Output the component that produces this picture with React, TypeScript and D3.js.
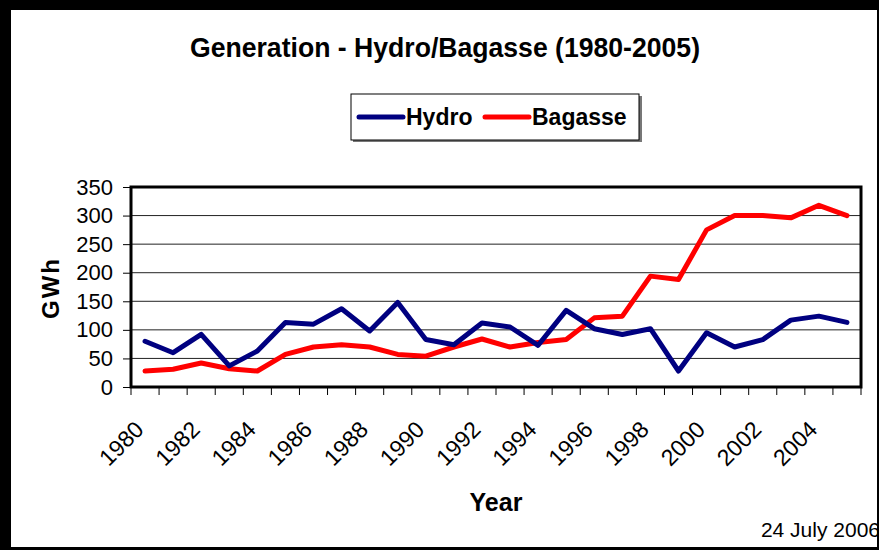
import React, { useRef, useEffect } from "react";
import * as d3 from "d3";

const years = [
    "1980", "1981", "1982", "1983", "1984", "1985", "1986", "1987", "1988",
    "1989", "1990", "1991", "1992", "1993", "1994", "1995", "1996", "1997",
    "1998", "1999", "2000", "2001", "2002", "2003", "2004", "2005",
];
const hydro = [
    80, 60, 92, 37, 63, 113, 110, 137, 98, 148, 83, 74, 112, 105, 73, 134,
    102, 92, 102, 28, 95, 70, 83, 117, 124, 113,
];
const bagasse = [
    28, 31, 42, 32, 28, 57, 70, 74, 70, 57, 54, 70, 84, 70, 78, 83, 121, 124,
    194, 188, 275, 300, 300, 296, 318, 300,
];
const yTicks = [0, 50, 100, 150, 200, 250, 300, 350];
const xTickLabels = [
    "1980", "1982", "1984", "1986", "1988", "1990", "1992", "1994", "1996",
    "1998", "2000", "2002", "2004",
];

const W = 879;
const H = 550;
const FONT = "'Liberation Sans', Arial, sans-serif";

const App = () => {
    const ref = useRef<SVGSVGElement>(null);

    useEffect(() => {
        if (!ref.current) return;
        const svg = d3.select(ref.current);
        svg.selectAll("*").remove();

        // frame
        svg.append("rect").attr("width", W).attr("height", H).attr("fill", "#000");
        svg.append("rect")
            .attr("x", 11)
            .attr("y", 10)
            .attr("width", 866)
            .attr("height", 537)
            .attr("fill", "#fff");

        const plot = { left: 131, right: 861, top: 187, bottom: 387 };

        const x = d3
            .scaleBand()
            .domain(years)
            .range([plot.left, plot.right])
            .padding(0);
        const cx = (d: string) => (x(d) as number) + x.bandwidth() / 2;

        const y = d3.scaleLinear().domain([0, 350]).range([plot.bottom, plot.top]);

        // gridlines
        svg.append("g")
            .selectAll("line")
            .data(yTicks.filter((d) => d > 0 && d < 350))
            .join("line")
            .attr("x1", plot.left)
            .attr("x2", plot.right)
            .attr("y1", (d) => y(d))
            .attr("y2", (d) => y(d))
            .attr("stroke", "#222")
            .attr("stroke-width", 1);

        // y axis
        const yAxis = svg
            .append("g")
            .attr("transform", `translate(${plot.left},0)`)
            .call(d3.axisLeft(y).tickValues(yTicks).tickSize(8).tickPadding(10));
        yAxis.select(".domain").remove();
        yAxis.selectAll(".tick line").attr("stroke", "#000");
        yAxis.selectAll(".tick text")
            .attr("fill", "#000")
            .style("font-family", FONT)
            .style("font-size", "22px");

        // x axis ticks at category boundaries
        const boundaries = years.map((d) => x(d) as number).concat([plot.right]);
        svg.append("g")
            .selectAll("line")
            .data(boundaries)
            .join("line")
            .attr("x1", (d) => d)
            .attr("x2", (d) => d)
            .attr("y1", plot.bottom)
            .attr("y2", plot.bottom + 8)
            .attr("stroke", "#000");

        svg.append("g")
            .selectAll("text")
            .data(xTickLabels)
            .join("text")
            .attr("transform", (d) => `translate(${cx(d)},${plot.bottom + 44}) rotate(-45)`)
            .attr("text-anchor", "end")
            .style("font-family", FONT)
            .style("font-size", "23px")
            .text((d) => d);

        // plot border
        svg.append("rect")
            .attr("x", plot.left)
            .attr("y", plot.top)
            .attr("width", plot.right - plot.left)
            .attr("height", plot.bottom - plot.top)
            .attr("fill", "none")
            .attr("stroke", "#000")
            .attr("stroke-width", 3);

        const line = d3
            .line<number>()
            .x((_, i) => cx(years[i]))
            .y((d) => y(d));

        svg.append("path")
            .datum(bagasse)
            .attr("fill", "none")
            .attr("stroke", "#ff0000")
            .attr("stroke-width", 5)
            .attr("stroke-linejoin", "round")
            .attr("stroke-linecap", "round")
            .attr("d", line);

        svg.append("path")
            .datum(hydro)
            .attr("fill", "none")
            .attr("stroke", "#000080")
            .attr("stroke-width", 5)
            .attr("stroke-linejoin", "round")
            .attr("stroke-linecap", "round")
            .attr("d", line);

        // title
        svg.append("text")
            .attr("x", 445)
            .attr("y", 57)
            .attr("text-anchor", "middle")
            .attr("textLength", 510)
            .attr("lengthAdjust", "spacingAndGlyphs")
            .style("font-family", FONT)
            .style("font-weight", "bold")
            .style("font-size", "28px")
            .text("Generation - Hydro/Bagasse (1980-2005)");

        // axis titles
        svg.append("text")
            .attr("transform", `translate(59,288) rotate(-90)`)
            .attr("text-anchor", "middle")
            .style("font-family", FONT)
            .style("font-weight", "bold")
            .style("font-size", "24px")
            .style("letter-spacing", "2px")
            .text("GWh");

        svg.append("text")
            .attr("x", 496)
            .attr("y", 511)
            .attr("text-anchor", "middle")
            .style("font-family", FONT)
            .style("font-weight", "bold")
            .style("font-size", "25px")
            .text("Year");

        svg.append("text")
            .attr("x", 880)
            .attr("y", 537)
            .attr("text-anchor", "end")
            .style("font-family", FONT)
            .style("font-size", "21px")
            .text("24 July 2006");

        // legend
        const lg = svg.append("g");
        lg.append("rect")
            .attr("x", 353)
            .attr("y", 96)
            .attr("width", 289)
            .attr("height", 46)
            .attr("fill", "#777");
        lg.append("rect")
            .attr("x", 351)
            .attr("y", 94)
            .attr("width", 288)
            .attr("height", 46)
            .attr("fill", "#fff")
            .attr("stroke", "#000")
            .attr("stroke-width", 1);

        const items = [
            { name: "Hydro", color: "#000080", x0: 359 },
            { name: "Bagasse", color: "#ff0000", x0: 485 },
        ];
        items.forEach((it) => {
            lg.append("line")
                .attr("x1", it.x0)
                .attr("x2", it.x0 + 44)
                .attr("y1", 117)
                .attr("y2", 117)
                .attr("stroke", it.color)
                .attr("stroke-width", 5)
                .attr("stroke-linecap", "round");
            lg.append("text")
                .attr("x", it.x0 + 47)
                .attr("y", 125)
                .style("font-family", FONT)
                .style("font-weight", "bold")
                .style("font-size", "23px")
                .text(it.name);
        });
    }, []);

    return (
        <svg
            ref={ref}
            width={W}
            height={H}
            style={{ position: "absolute", left: 0, top: 0, display: "block" }}
        />
    );
};

export default App;
